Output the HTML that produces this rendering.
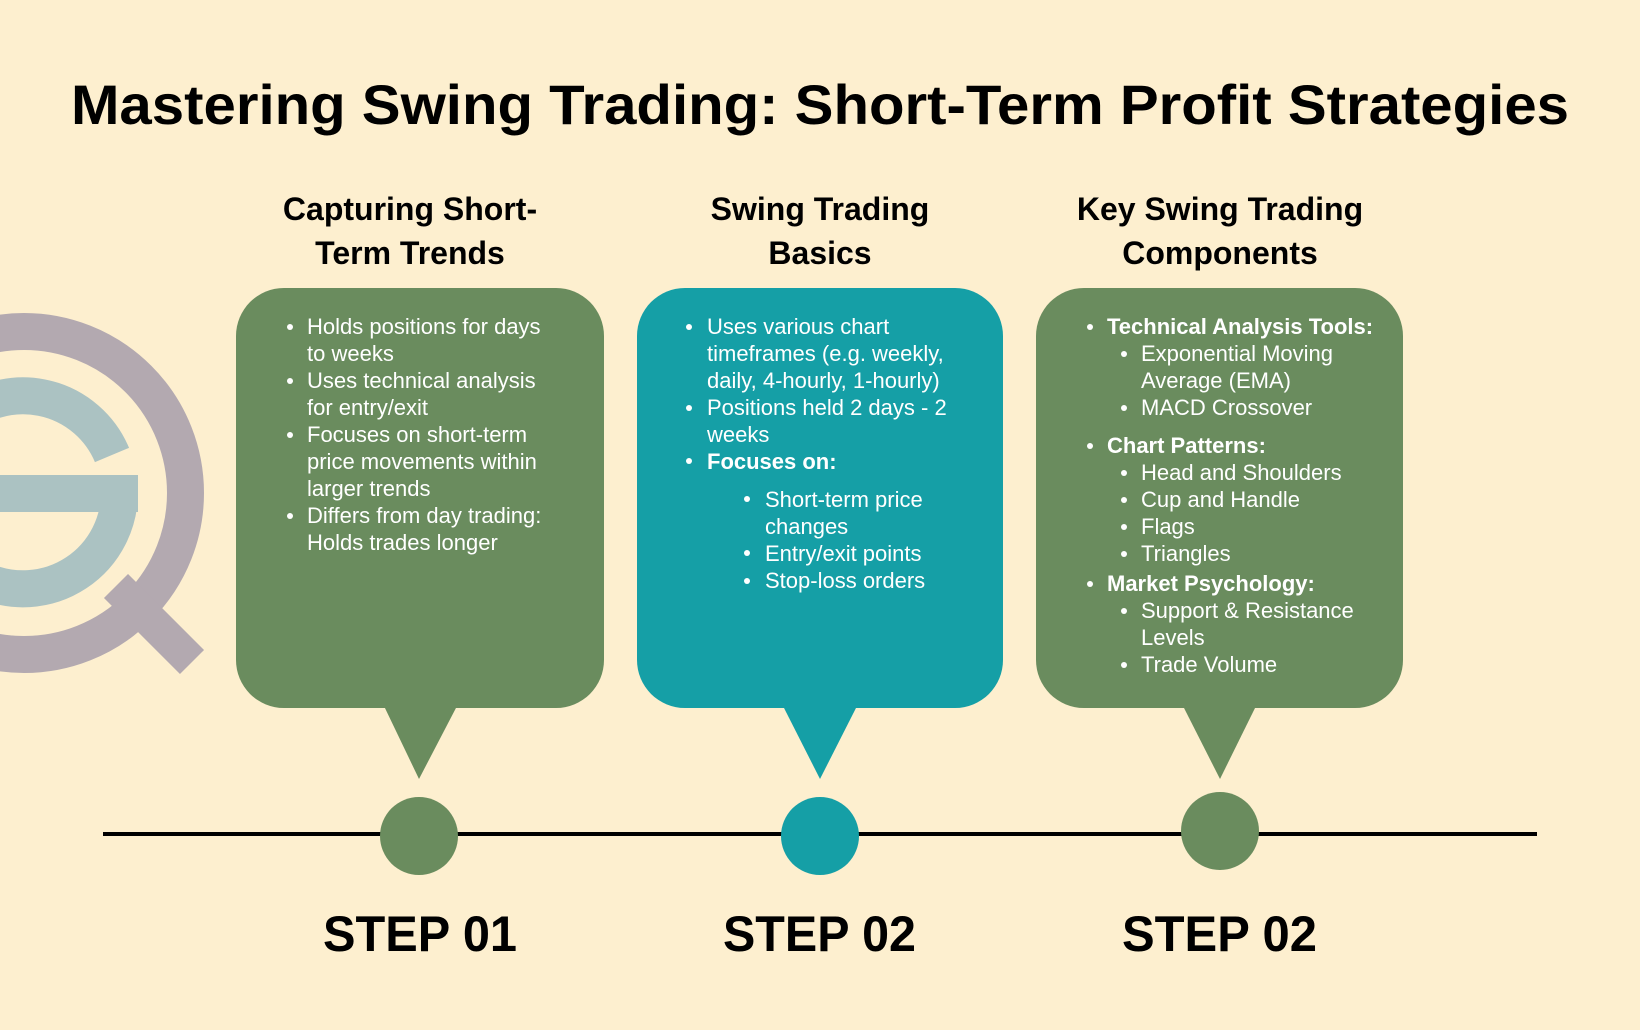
<!DOCTYPE html>
<html><head><meta charset="utf-8"><style>
html,body{margin:0;padding:0;background:#fdefcf;}
svg{display:block;}
text{font-family:"Liberation Sans",sans-serif;}
.b{font-size:22px;fill:#fff;}
.bb{font-size:22px;fill:#fff;font-weight:bold;}
.h{font-size:32px;font-weight:bold;fill:#000;}
</style></head><body>
<svg width="1640" height="1030" viewBox="0 0 1640 1030" xmlns="http://www.w3.org/2000/svg">
<rect width="1640" height="1030" fill="#fdefcf"/>
<!-- logo -->
<circle cx="24" cy="493" r="161.5" fill="none" stroke="#b3a9b0" stroke-width="37"/>
<line x1="116" y1="586" x2="192" y2="662" stroke="#b3a9b0" stroke-width="34"/>
<path d="M112 455 A96.5 96.5 0 1 0 119.5 493" fill="none" stroke="#abc2c2" stroke-width="37"/>
<rect x="0" y="475" width="138" height="37" fill="#abc2c2"/>

<!-- title -->
<text x="71" y="124" font-size="56" font-weight="bold" textLength="1498" lengthAdjust="spacingAndGlyphs">Mastering Swing Trading: Short-Term Profit Strategies</text>

<!-- headings -->
<text class="h" x="410" y="220" text-anchor="middle">Capturing Short-</text>
<text class="h" x="410" y="264" text-anchor="middle">Term Trends</text>
<text class="h" x="820" y="220" text-anchor="middle">Swing Trading</text>
<text class="h" x="820" y="264" text-anchor="middle">Basics</text>
<text class="h" x="1220" y="220" text-anchor="middle">Key Swing Trading</text>
<text class="h" x="1220" y="264" text-anchor="middle">Components</text>

<!-- boxes -->
<rect x="236" y="288" width="368" height="420" rx="48" fill="#6a8c5e"/>
<polygon points="384,706 457,706 419,779" fill="#6a8c5e"/>
<rect x="637" y="288" width="366" height="420" rx="48" fill="#159fa6"/>
<polygon points="783,706 857,706 820,779" fill="#159fa6"/>
<rect x="1036" y="288" width="367" height="420" rx="48" fill="#6a8c5e"/>
<polygon points="1183,706 1256,706 1220,779" fill="#6a8c5e"/>

<!-- timeline -->
<line x1="103" y1="834" x2="1537" y2="834" stroke="#000" stroke-width="4"/>
<circle cx="419" cy="836" r="39" fill="#6a8c5e"/>
<circle cx="820" cy="836" r="39" fill="#159fa6"/>
<circle cx="1220" cy="831" r="39" fill="#6a8c5e"/>

<text x="323" y="951" font-size="50" font-weight="bold" textLength="194" lengthAdjust="spacingAndGlyphs">STEP 01</text>
<text x="723" y="951" font-size="50" font-weight="bold" textLength="193" lengthAdjust="spacingAndGlyphs">STEP 02</text>
<text x="1122" y="951" font-size="50" font-weight="bold" textLength="195" lengthAdjust="spacingAndGlyphs">STEP 02</text>

<!-- box 1 text -->
<g fill="#fff">
<circle cx="290" cy="327" r="3"/><circle cx="290" cy="381" r="3"/><circle cx="290" cy="435" r="3"/><circle cx="290" cy="516" r="3"/>
</g>
<text class="b" x="307" y="334">Holds positions for days</text>
<text class="b" x="307" y="361">to weeks</text>
<text class="b" x="307" y="388">Uses technical analysis</text>
<text class="b" x="307" y="415">for entry/exit</text>
<text class="b" x="307" y="442">Focuses on short-term</text>
<text class="b" x="307" y="469">price movements within</text>
<text class="b" x="307" y="496">larger trends</text>
<text class="b" x="307" y="523">Differs from day trading:</text>
<text class="b" x="307" y="550">Holds trades longer</text>

<!-- box 2 text -->
<g fill="#fff">
<circle cx="689" cy="327" r="3"/><circle cx="689" cy="408" r="3"/><circle cx="689" cy="461" r="3"/>
<circle cx="747" cy="499" r="3"/><circle cx="747" cy="553" r="3"/><circle cx="747" cy="581" r="3"/>
</g>
<text class="b" x="707" y="334">Uses various chart</text>
<text class="b" x="707" y="361">timeframes (e.g. weekly,</text>
<text class="b" x="707" y="388">daily, 4-hourly, 1-hourly)</text>
<text class="b" x="707" y="415">Positions held 2 days - 2</text>
<text class="b" x="707" y="442">weeks</text>
<text class="bb" x="707" y="469">Focuses on:</text>
<text class="b" x="765" y="507">Short-term price</text>
<text class="b" x="765" y="534">changes</text>
<text class="b" x="765" y="561">Entry/exit points</text>
<text class="b" x="765" y="588">Stop-loss orders</text>

<!-- box 3 text -->
<g fill="#fff">
<circle cx="1090" cy="327" r="3"/><circle cx="1090" cy="446" r="3"/><circle cx="1090" cy="584" r="3"/>
<circle cx="1124" cy="354" r="3"/><circle cx="1124" cy="408" r="3"/>
<circle cx="1124" cy="473" r="3"/><circle cx="1124" cy="500" r="3"/><circle cx="1124" cy="527" r="3"/><circle cx="1124" cy="554" r="3"/>
<circle cx="1124" cy="611" r="3"/><circle cx="1124" cy="665" r="3"/>
</g>
<text class="bb" x="1107" y="334">Technical Analysis Tools:</text>
<text class="b" x="1141" y="361">Exponential Moving</text>
<text class="b" x="1141" y="388">Average (EMA)</text>
<text class="b" x="1141" y="415">MACD Crossover</text>
<text class="bb" x="1107" y="453">Chart Patterns:</text>
<text class="b" x="1141" y="480">Head and Shoulders</text>
<text class="b" x="1141" y="507">Cup and Handle</text>
<text class="b" x="1141" y="534">Flags</text>
<text class="b" x="1141" y="561">Triangles</text>
<text class="bb" x="1107" y="591">Market Psychology:</text>
<text class="b" x="1141" y="618">Support &amp; Resistance</text>
<text class="b" x="1141" y="645">Levels</text>
<text class="b" x="1141" y="672">Trade Volume</text>
</svg>
</body></html>
